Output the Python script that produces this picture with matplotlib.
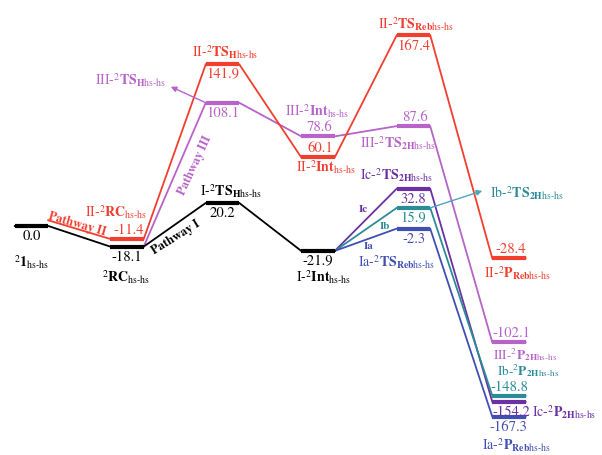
import matplotlib
matplotlib.use('Agg')
import matplotlib.pyplot as plt

# energy levels (kcal/mol) per pathway, column index = reaction step
black_cols = [0, 1, 2, 3]
black_E = [0.0, -18.1, 20.2, -21.9]
red_cols = [1, 2, 3, 4, 5]
red_E = [-11.4, 141.9, 60.1, 167.4, -28.4]
purple_cols = [2, 3, 4, 5]
purple_E = [108.1, 78.6, 87.6, -102.1]
ia_E = [-2.3, -167.3]
ib_E = [15.9, -148.8]
ic_E = [32.8, -154.2]
branch_cols = [4, 5]

C_BLACK = 'black'
C_RED = '#f23e2e'
C_III = '#b763c8'
C_IA = '#3f4fb2'
C_IB = '#2b8c97'
C_IC = '#6b31a3'

HW = 0.175  # half width of a level bar
FS = 10     # name label size

plt.rcParams['font.family'] = ['STIXGeneral', 'DejaVu Serif']
plt.rcParams['mathtext.fontset'] = 'stix'

fig = plt.figure(figsize=(6.02, 4.56), dpi=100)
ax = fig.add_axes([0, 0, 1, 1])
ax.set_xlim(-0.33, 5.974)
ax.set_ylim(-200.9, 199.1)
ax.axis('off')


def name(pre, main, sub_b, sub_rest=True):
    s = pre + '-' if pre else ''
    sub = r'\mathbf{' + sub_b + '}' if sub_b else ''
    if sub_rest:
        sub += r'\mathrm{hs}\text{-}\mathrm{hs}'
    return s + r'${}^{2}\mathbf{' + main + '}_{' + sub + '}$'


def levels(cols, E, color, start=None, lw_bar=3.0):
    # connectors first, bars on top
    xs, ys = [], []
    if start:
        xs.append(start[0])
        ys.append(start[1])
    for c, e in zip(cols, E):
        xs += [c - HW, c + HW]
        ys += [e, e]
    ax.plot(xs, ys, color=color, lw=1.3, solid_joinstyle='miter')
    for c, e in zip(cols, E):
        ax.plot([c - HW, c + HW], [e, e], color=color, lw=lw_bar, solid_capstyle='butt')


def num(c, e, txt, color, above=False, dx=0):
    ax.annotate(txt, (c, e), xytext=(dx, 3 if above else -3), textcoords='offset pixels',
                ha='center', va='bottom' if above else 'top', color=color, fontsize=10.5)


def lab(c, e, txt, color, dx, dy, ha='center', size=FS):
    ax.annotate(txt, (c, e), xytext=(dx, dy), textcoords='offset pixels',
                ha=ha, va='center', color=color, fontsize=size)


def arrow(c, e, dx, dy, color):
    ax.annotate('', (c, e), xytext=(dx, dy), textcoords='offset pixels',
                arrowprops=dict(arrowstyle='<|-', color=color, lw=1.0, shrinkA=0, shrinkB=0,
                                mutation_scale=8))


# pathways
levels(purple_cols, purple_E, C_III, start=(1 + HW, black_E[1]))
levels(red_cols, red_E, C_RED, start=(0 + HW, 5.0))
levels(branch_cols, ic_E, C_IC, start=(3 + HW, black_E[3]))
levels(branch_cols, ib_E, C_IB, start=(3 + HW, black_E[3]))
levels(branch_cols, ia_E, C_IA, start=(3 + HW, black_E[3]))
levels(black_cols, black_E, C_BLACK)

# energies
for c, e in zip(black_cols, black_E):
    num(c, e, f'{e:.1f}', C_BLACK)
for c, e, up in zip(red_cols, red_E, [True, False, True, False, True]):
    num(c, e, f'{e:.1f}', C_RED, above=up, dx=2 if up else 0)
for c, e, up in zip(purple_cols, purple_E, [False, True, True, True]):
    num(c, e, f'{e:.1f}', C_III, above=up, dx=2 if up else 0)
num(4, ic_E[0], f'{ic_E[0]:.1f}', C_IC)
num(4, ib_E[0], f'{ib_E[0]:.1f}', C_IB)
num(4, ia_E[0], f'{ia_E[0]:.1f}', C_IA)
num(5, ib_E[1], f'{ib_E[1]:.1f}', C_IB, above=True)
num(5, ic_E[1], f'{ic_E[1]:.1f}', C_IC, dx=2)
num(5, ia_E[1], f'{ia_E[1]:.1f}', C_IA, dx=-1, above=False)

# species names
lab(0, black_E[0], name('', '1', '', True), C_BLACK, 0, -35)
lab(1, black_E[1], name('', 'RC', '', True), C_BLACK, -1, -30)
lab(1, red_E[0], name('II', 'RC', '', True), C_RED, -11, 28)
lab(2, black_E[2], name('I', 'TS', 'H'), C_BLACK, 8, 13)
lab(2, red_E[1], name('II', 'TS', 'H'), C_RED, 3, 13)
lab(3, purple_E[1], name('III', 'Int', ''), C_III, -1, 26)
lab(3, red_E[2], name('II', 'Int', ''), C_RED, 8, -9)
lab(3, black_E[3], name('I', 'Int', ''), C_BLACK, 5, -25)
lab(4, red_E[3], name('II', 'TS', 'Reb'), C_RED, 2, 12)
lab(4, purple_E[2], name('III', 'TS', '2H'), C_III, -16, -16)
lab(4, ic_E[0], name('Ic', 'TS', '2H'), C_IC, -17, 14)
lab(4, ia_E[0], name('Ia', 'TS', 'Reb'), C_IA, -17, -33)
lab(5, red_E[4], name('II', 'P', 'Reb'), C_RED, 9, -14)
lab(5, purple_E[3], name('III', 'P', '2H'), C_III, 16, -11, size=9.5)
lab(5, ib_E[1], name('Ib', 'P', '2H'), C_IB, 19, 26, size=9.5)
lab(5, ic_E[1], name('Ic', 'P', '2H'), C_IC, 23, -9, ha='left')
lab(5, ia_E[1], name('Ia', 'P', 'Reb'), C_IA, 7, -28)
lab(2, purple_E[0], name('III', 'TS', 'H'), C_III, -92, 24)
lab(4, ib_E[0], name('Ib', 'TS', '2H'), C_IB, 113, 16)

# arrows to the side labels
arrow(2 - HW, purple_E[0], -35, 16, C_III)
arrow(4 + HW, ib_E[0], 52, 17, '#4ba6bf')

# pathway tags
ax.annotate('Pathway II', (0, black_E[0]), xytext=(46, 3), textcoords='offset pixels',
            ha='center', va='center', rotation=-16, color=C_RED, fontsize=9, fontweight='bold')
ax.annotate('Pathway I', (1, black_E[1]), xytext=(49, 10), textcoords='offset pixels',
            ha='center', va='center', rotation=32, color=C_BLACK, fontsize=9, fontweight='bold')
ax.annotate('Pathway III', (1, black_E[1]), xytext=(68, 82), textcoords='offset pixels',
            ha='center', va='center', rotation=65, color=C_III, fontsize=9, fontweight='bold')
ax.annotate('Ic', (3, black_E[3]), xytext=(45, 42), textcoords='offset pixels',
            ha='center', va='center', color=C_IC, fontsize=8, fontweight='bold')
ax.annotate('Ib', (3, black_E[3]), xytext=(67, 25), textcoords='offset pixels',
            ha='center', va='center', color=C_IB, fontsize=8, fontweight='bold')
ax.annotate('Ia', (3, black_E[3]), xytext=(51, 5), textcoords='offset pixels',
            ha='center', va='center', color=C_IA, fontsize=8, fontweight='bold')

fig.savefig('out.png', dpi=100)
